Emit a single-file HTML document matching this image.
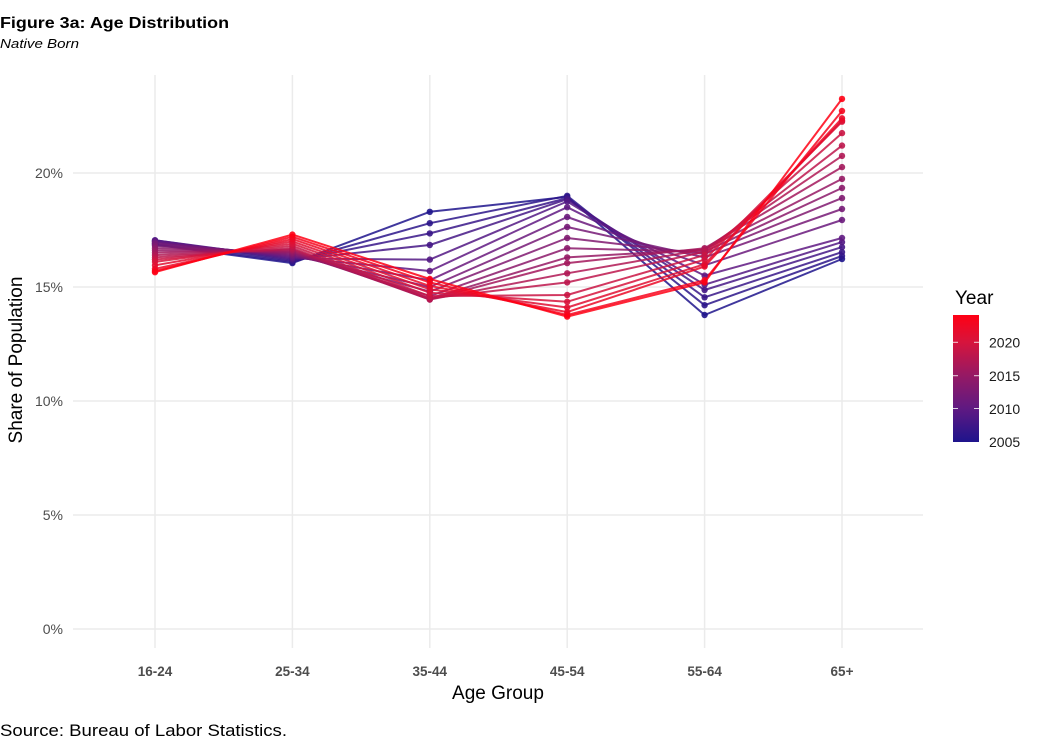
<!DOCTYPE html>
<html><head><meta charset="utf-8"><style>
html,body{margin:0;padding:0;background:#fff;}
svg{display:block;}
</style></head><body>
<svg width="1044" height="750" viewBox="0 0 1044 750" xmlns="http://www.w3.org/2000/svg">
<defs>
<linearGradient id="lg" x1="0" y1="1" x2="0" y2="0">
<stop offset="0" stop-color="#1e148c"/>
<stop offset="0.263" stop-color="#5f1982"/>
<stop offset="0.526" stop-color="#961964"/>
<stop offset="0.789" stop-color="#d7143c"/>
<stop offset="1" stop-color="#ff0014"/>
</linearGradient>
</defs>
<rect width="1044" height="750" fill="#fff"/>
<text x="0" y="28" font-family="Liberation Sans, sans-serif" font-weight="bold" font-size="16" fill="#000" textLength="229" lengthAdjust="spacingAndGlyphs">Figure 3a: Age Distribution</text>
<text x="0" y="48" font-family="Liberation Sans, sans-serif" font-style="italic" font-size="13" fill="#000" textLength="79" lengthAdjust="spacingAndGlyphs">Native Born</text>
<g stroke="#ebebeb" stroke-width="1.5">
<line x1="73" y1="629" x2="923" y2="629"/>
<line x1="73" y1="515" x2="923" y2="515"/>
<line x1="73" y1="401" x2="923" y2="401"/>
<line x1="73" y1="287" x2="923" y2="287"/>
<line x1="73" y1="173" x2="923" y2="173"/>
<line x1="155" y1="75" x2="155" y2="648"/>
<line x1="292.4" y1="75" x2="292.4" y2="648"/>
<line x1="429.8" y1="75" x2="429.8" y2="648"/>
<line x1="567.2" y1="75" x2="567.2" y2="648"/>
<line x1="704.6" y1="75" x2="704.6" y2="648"/>
<line x1="842" y1="75" x2="842" y2="648"/>
</g>
<g font-family="Liberation Sans, sans-serif" font-size="14" fill="#4d4d4d" text-anchor="end">
<text x="63" y="178">20%</text>
<text x="63" y="292">15%</text>
<text x="63" y="406">10%</text>
<text x="63" y="520">5%</text>
<text x="63" y="634">0%</text>
</g>
<g font-family="Liberation Sans, sans-serif" font-size="13.5" font-weight="bold" fill="#4d4d4d" text-anchor="middle">
<text x="155" y="676">16-24</text>
<text x="292.4" y="676">25-34</text>
<text x="429.8" y="676">35-44</text>
<text x="567.2" y="676">45-54</text>
<text x="704.6" y="676">55-64</text>
<text x="842" y="676">65+</text>
</g>
<text x="498" y="699" font-family="Liberation Sans, sans-serif" font-size="19" fill="#000" text-anchor="middle">Age Group</text>
<text transform="translate(22,360) rotate(-90)" font-family="Liberation Sans, sans-serif" font-size="19" fill="#000" text-anchor="middle">Share of Population</text>
<g fill="none" stroke-width="2" stroke-opacity="0.85" stroke-linejoin="round">
<polyline stroke="#1e148c" points="155,244.8 292.4,263.1 429.8,211.8 567.2,196.9 704.6,315.0 842,259.0"/>
<polyline stroke="#2b158a" points="155,243.7 292.4,261.9 429.8,223.2 567.2,195.8 704.6,305.2 842,256.0"/>
<polyline stroke="#381688" points="155,241.4 292.4,260.8 429.8,233.4 567.2,198.1 704.6,297.3 842,252.1"/>
<polyline stroke="#451786" points="155,240.3 292.4,259.6 429.8,245.0 567.2,199.2 704.6,290.0 842,247.1"/>
<polyline stroke="#521884" points="155,240.3 292.4,258.5 429.8,259.6 567.2,201.5 704.6,284.7 842,242.1"/>
<polyline stroke="#5f1982" points="155,241.4 292.4,257.4 429.8,271.0 567.2,207.2 704.6,275.6 842,238.0"/>
<polyline stroke="#6a197c" points="155,242.5 292.4,256.2 429.8,280.2 567.2,217.0 704.6,265.3 842,220.0"/>
<polyline stroke="#751976" points="155,243.7 292.4,255.1 429.8,287.0 567.2,227.0 704.6,257.4 842,209.0"/>
<polyline stroke="#801970" points="155,246.0 292.4,253.9 429.8,291.6 567.2,238.0 704.6,253.9 842,198.1"/>
<polyline stroke="#8b196a" points="155,248.2 292.4,252.8 429.8,296.1 567.2,248.2 704.6,251.7 842,188.0"/>
<polyline stroke="#961964" points="155,250.5 292.4,251.7 429.8,298.4 567.2,257.4 704.6,249.4 842,178.9"/>
<polyline stroke="#a3185c" points="155,252.8 292.4,250.5 429.8,299.5 567.2,263.1 704.6,248.2 842,167.1"/>
<polyline stroke="#b01754" points="155,255.1 292.4,249.4 429.8,299.5 567.2,273.3 704.6,249.4 842,155.9"/>
<polyline stroke="#bd164c" points="155,257.4 292.4,248.2 429.8,298.4 567.2,282.4 704.6,251.7 842,145.6"/>
<polyline stroke="#ca1544" points="155,259.6 292.4,246.0 429.8,296.1 567.2,295.0 704.6,255.1 842,133.1"/>
<polyline stroke="#d7143c" points="155,261.9 292.4,243.7 429.8,292.7 567.2,301.8 704.6,259.6 842,121.7"/>
<polyline stroke="#e10f32" points="155,265.3 292.4,241.4 429.8,289.3 567.2,307.5 704.6,264.2 842,120.6"/>
<polyline stroke="#eb0a28" points="155,268.8 292.4,239.1 429.8,285.9 567.2,312.1 704.6,266.5 842,118.3"/>
<polyline stroke="#f5051e" points="155,271.0 292.4,236.8 429.8,282.4 567.2,315.0 704.6,280.2 842,111.0"/>
<polyline stroke="#ff0014" points="155,272.2 292.4,234.6 429.8,279.0 567.2,316.6 704.6,282.4 842,98.9"/>
</g>
<g fill-opacity="0.9">
<g fill="#1e148c"><circle cx="155" cy="244.8" r="3.2"/><circle cx="292.4" cy="263.1" r="3.2"/><circle cx="429.8" cy="211.8" r="3.2"/><circle cx="567.2" cy="196.9" r="3.2"/><circle cx="704.6" cy="315.0" r="3.2"/><circle cx="842" cy="259.0" r="3.2"/></g>
<g fill="#2b158a"><circle cx="155" cy="243.7" r="3.2"/><circle cx="292.4" cy="261.9" r="3.2"/><circle cx="429.8" cy="223.2" r="3.2"/><circle cx="567.2" cy="195.8" r="3.2"/><circle cx="704.6" cy="305.2" r="3.2"/><circle cx="842" cy="256.0" r="3.2"/></g>
<g fill="#381688"><circle cx="155" cy="241.4" r="3.2"/><circle cx="292.4" cy="260.8" r="3.2"/><circle cx="429.8" cy="233.4" r="3.2"/><circle cx="567.2" cy="198.1" r="3.2"/><circle cx="704.6" cy="297.3" r="3.2"/><circle cx="842" cy="252.1" r="3.2"/></g>
<g fill="#451786"><circle cx="155" cy="240.3" r="3.2"/><circle cx="292.4" cy="259.6" r="3.2"/><circle cx="429.8" cy="245.0" r="3.2"/><circle cx="567.2" cy="199.2" r="3.2"/><circle cx="704.6" cy="290.0" r="3.2"/><circle cx="842" cy="247.1" r="3.2"/></g>
<g fill="#521884"><circle cx="155" cy="240.3" r="3.2"/><circle cx="292.4" cy="258.5" r="3.2"/><circle cx="429.8" cy="259.6" r="3.2"/><circle cx="567.2" cy="201.5" r="3.2"/><circle cx="704.6" cy="284.7" r="3.2"/><circle cx="842" cy="242.1" r="3.2"/></g>
<g fill="#5f1982"><circle cx="155" cy="241.4" r="3.2"/><circle cx="292.4" cy="257.4" r="3.2"/><circle cx="429.8" cy="271.0" r="3.2"/><circle cx="567.2" cy="207.2" r="3.2"/><circle cx="704.6" cy="275.6" r="3.2"/><circle cx="842" cy="238.0" r="3.2"/></g>
<g fill="#6a197c"><circle cx="155" cy="242.5" r="3.2"/><circle cx="292.4" cy="256.2" r="3.2"/><circle cx="429.8" cy="280.2" r="3.2"/><circle cx="567.2" cy="217.0" r="3.2"/><circle cx="704.6" cy="265.3" r="3.2"/><circle cx="842" cy="220.0" r="3.2"/></g>
<g fill="#751976"><circle cx="155" cy="243.7" r="3.2"/><circle cx="292.4" cy="255.1" r="3.2"/><circle cx="429.8" cy="287.0" r="3.2"/><circle cx="567.2" cy="227.0" r="3.2"/><circle cx="704.6" cy="257.4" r="3.2"/><circle cx="842" cy="209.0" r="3.2"/></g>
<g fill="#801970"><circle cx="155" cy="246.0" r="3.2"/><circle cx="292.4" cy="253.9" r="3.2"/><circle cx="429.8" cy="291.6" r="3.2"/><circle cx="567.2" cy="238.0" r="3.2"/><circle cx="704.6" cy="253.9" r="3.2"/><circle cx="842" cy="198.1" r="3.2"/></g>
<g fill="#8b196a"><circle cx="155" cy="248.2" r="3.2"/><circle cx="292.4" cy="252.8" r="3.2"/><circle cx="429.8" cy="296.1" r="3.2"/><circle cx="567.2" cy="248.2" r="3.2"/><circle cx="704.6" cy="251.7" r="3.2"/><circle cx="842" cy="188.0" r="3.2"/></g>
<g fill="#961964"><circle cx="155" cy="250.5" r="3.2"/><circle cx="292.4" cy="251.7" r="3.2"/><circle cx="429.8" cy="298.4" r="3.2"/><circle cx="567.2" cy="257.4" r="3.2"/><circle cx="704.6" cy="249.4" r="3.2"/><circle cx="842" cy="178.9" r="3.2"/></g>
<g fill="#a3185c"><circle cx="155" cy="252.8" r="3.2"/><circle cx="292.4" cy="250.5" r="3.2"/><circle cx="429.8" cy="299.5" r="3.2"/><circle cx="567.2" cy="263.1" r="3.2"/><circle cx="704.6" cy="248.2" r="3.2"/><circle cx="842" cy="167.1" r="3.2"/></g>
<g fill="#b01754"><circle cx="155" cy="255.1" r="3.2"/><circle cx="292.4" cy="249.4" r="3.2"/><circle cx="429.8" cy="299.5" r="3.2"/><circle cx="567.2" cy="273.3" r="3.2"/><circle cx="704.6" cy="249.4" r="3.2"/><circle cx="842" cy="155.9" r="3.2"/></g>
<g fill="#bd164c"><circle cx="155" cy="257.4" r="3.2"/><circle cx="292.4" cy="248.2" r="3.2"/><circle cx="429.8" cy="298.4" r="3.2"/><circle cx="567.2" cy="282.4" r="3.2"/><circle cx="704.6" cy="251.7" r="3.2"/><circle cx="842" cy="145.6" r="3.2"/></g>
<g fill="#ca1544"><circle cx="155" cy="259.6" r="3.2"/><circle cx="292.4" cy="246.0" r="3.2"/><circle cx="429.8" cy="296.1" r="3.2"/><circle cx="567.2" cy="295.0" r="3.2"/><circle cx="704.6" cy="255.1" r="3.2"/><circle cx="842" cy="133.1" r="3.2"/></g>
<g fill="#d7143c"><circle cx="155" cy="261.9" r="3.2"/><circle cx="292.4" cy="243.7" r="3.2"/><circle cx="429.8" cy="292.7" r="3.2"/><circle cx="567.2" cy="301.8" r="3.2"/><circle cx="704.6" cy="259.6" r="3.2"/><circle cx="842" cy="121.7" r="3.2"/></g>
<g fill="#e10f32"><circle cx="155" cy="265.3" r="3.2"/><circle cx="292.4" cy="241.4" r="3.2"/><circle cx="429.8" cy="289.3" r="3.2"/><circle cx="567.2" cy="307.5" r="3.2"/><circle cx="704.6" cy="264.2" r="3.2"/><circle cx="842" cy="120.6" r="3.2"/></g>
<g fill="#eb0a28"><circle cx="155" cy="268.8" r="3.2"/><circle cx="292.4" cy="239.1" r="3.2"/><circle cx="429.8" cy="285.9" r="3.2"/><circle cx="567.2" cy="312.1" r="3.2"/><circle cx="704.6" cy="266.5" r="3.2"/><circle cx="842" cy="118.3" r="3.2"/></g>
<g fill="#f5051e"><circle cx="155" cy="271.0" r="3.2"/><circle cx="292.4" cy="236.8" r="3.2"/><circle cx="429.8" cy="282.4" r="3.2"/><circle cx="567.2" cy="315.0" r="3.2"/><circle cx="704.6" cy="280.2" r="3.2"/><circle cx="842" cy="111.0" r="3.2"/></g>
<g fill="#ff0014"><circle cx="155" cy="272.2" r="3.2"/><circle cx="292.4" cy="234.6" r="3.2"/><circle cx="429.8" cy="279.0" r="3.2"/><circle cx="567.2" cy="316.6" r="3.2"/><circle cx="704.6" cy="282.4" r="3.2"/><circle cx="842" cy="98.9" r="3.2"/></g>
</g>
<text x="955" y="304" font-family="Liberation Sans, sans-serif" font-size="19" fill="#000">Year</text>
<rect x="953" y="315" width="26" height="127" fill="url(#lg)"/>
<g stroke="#ffffff" stroke-width="1" stroke-opacity="0.8">
<line x1="953" y1="342.3" x2="958" y2="342.3"/><line x1="974" y1="342.3" x2="979" y2="342.3"/>
<line x1="953" y1="375.7" x2="958" y2="375.7"/><line x1="974" y1="375.7" x2="979" y2="375.7"/>
<line x1="953" y1="408.5" x2="958" y2="408.5"/><line x1="974" y1="408.5" x2="979" y2="408.5"/>
</g>
<g font-family="Liberation Sans, sans-serif" font-size="14" fill="#1a1a1a">
<text x="989" y="347.5">2020</text>
<text x="989" y="381">2015</text>
<text x="989" y="414">2010</text>
<text x="989" y="447">2005</text>
</g>
<text x="0" y="736" font-family="Liberation Sans, sans-serif" font-size="17" fill="#000" textLength="287" lengthAdjust="spacingAndGlyphs">Source: Bureau of Labor Statistics.</text>
</svg>
</body></html>
